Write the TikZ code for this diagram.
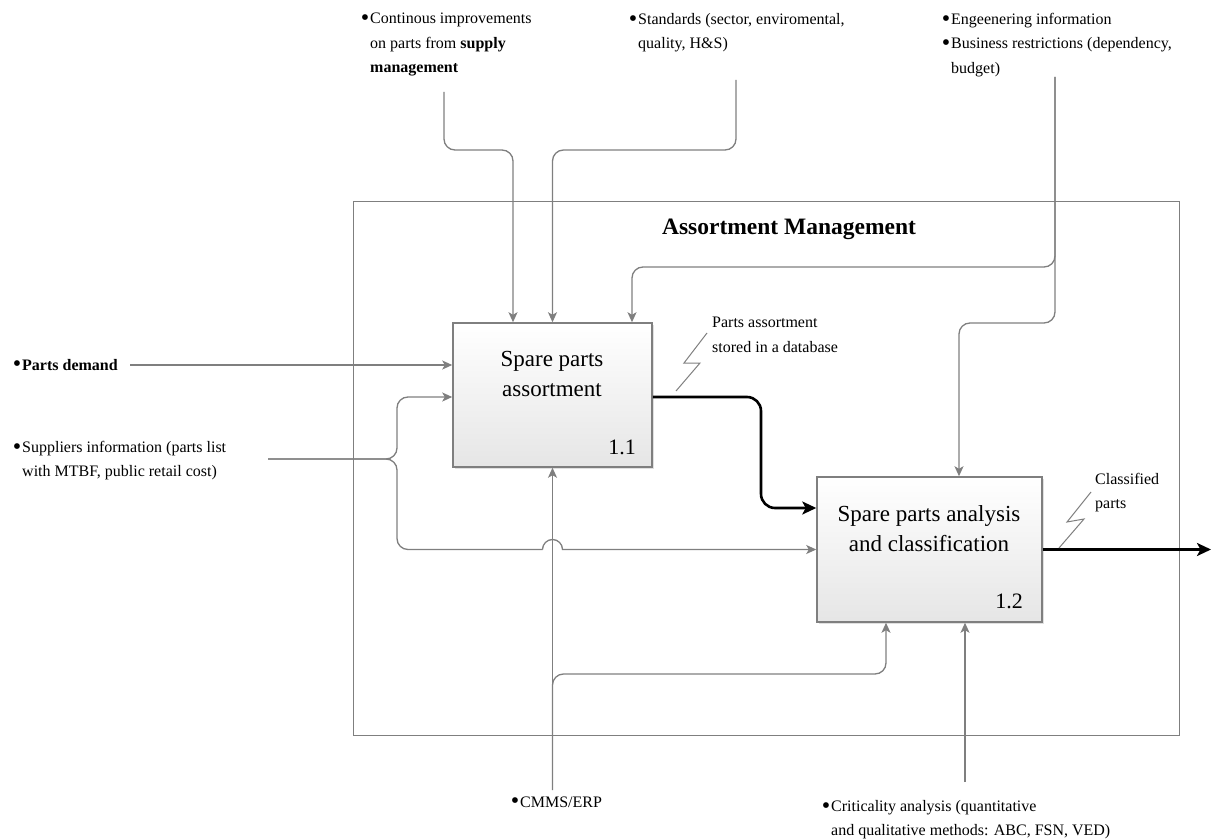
\documentclass[tikz,border=0pt]{standalone}
\usepackage{fontspec}
\setmainfont{Liberation Serif}
\usetikzlibrary{arrows.meta,shadows}
\definecolor{linegray}{HTML}{7F7F7F}
\newcommand{\bul}{\llap{\raisebox{-1.8pt}{\fontsize{24}{0}\selectfont\textbullet}\hspace{1pt}}}
\begin{document}
\begin{tikzpicture}[x=1pt,y=-1pt,
  wire/.style={draw=linegray, line width=1.3pt, rounded corners=11pt},
  tipg/.style={-{Stealth[length=10pt,width=9pt,inset=2.5pt]}},
  mainwire/.style={draw=black, line width=2.6pt, rounded corners=14pt,
    -{Stealth[length=14pt,width=13pt,inset=3.5pt]}},
  actbox/.style={draw=linegray, line width=1.5pt, top color=white, bottom color=black!10,
    drop shadow={shadow xshift=2pt,shadow yshift=-2pt,fill=black!12,opacity=1}, inner sep=0pt},
  frame/.style={draw=linegray, line width=1pt, inner sep=0pt},
  lbl/.style={font=\fontsize{16}{24.5}\selectfont, inner sep=0pt, align=left, anchor=north west},
  boxtxt/.style={font=\fontsize{23}{30}\selectfont, inner sep=0pt, align=center},
  boxnum/.style={font=\fontsize{22}{26}\selectfont, inner sep=0pt, anchor=east},
  squig/.style={draw=linegray, line width=1pt},
]
\useasboundingbox (0,0) rectangle (1211,840);

% enclosing frame and title
\node[frame, minimum width=826pt, minimum height=533pt] (frm) at (766,468.5) {};
\node[font=\fontsize{23.5}{28}\selectfont\bfseries, inner sep=0pt] (title) at (789,229) {Assortment Management};

% activity boxes
\node[actbox, minimum width=199pt, minimum height=144pt] (b1) at (552.5,395) {};
\node[actbox, minimum width=225pt, minimum height=145pt] (b2) at (929.5,549.5) {};
\node[boxtxt] (t1) at (552,373.5) {Spare parts\\assortment};
\node[boxtxt] (t2) at (929,529) {Spare parts analysis\\and classification};
\node[boxnum] (n1) at (636,447) {1.1};
\node[boxnum] (n2) at (1023,601) {1.2};

% outside labels
\node[lbl] (ci) at (370,13) {\bul Continous improvements\\on parts from \textbf{supply}\\\textbf{management}};
\node[lbl] (std) at (638,13) {\bul Standards (sector, enviromental,\\quality, H\&S)};
\node[lbl] (eng) at (951,13) {\bul Engeenering information\\\bul Business restrictions (dependency,\\budget)};
\node[lbl, anchor=base west] (pd) at (22,370) {\bul\textbf{Parts demand}};
\node[lbl] (sup) at (22,441) {\bul Suppliers information (parts list\\ with MTBF, public retail cost)};
\node[lbl, anchor=base west] (cm) at (520,807) {\bul CMMS/ERP};
\node[lbl] (cr) at (831,800) {\bul Criticality analysis (quantitative\\and qualitative methods: ABC, FSN, VED)};
\node[lbl] (pa) at (712,317) {Parts assortment\\stored in a database};
\node[lbl] (cp) at (1095,473) {Classified\\parts};

% free ends of the connectors
\coordinate (ciA) at (444,92);
\coordinate (stdA) at (736,80);
\coordinate (engA) at (1055,77);
\coordinate (pdA) at (130,365);
\coordinate (supA) at (268,459);
\coordinate (cmA) at (552.5,790);
\coordinate (crA) at (965,782);
\coordinate (outA) at (1211,549.5);

% controls
\draw[wire,tipg] (ciA) -- (444,150) -- (513,150) -- ([xshift=-39.5pt]b1.north);
\draw[wire,tipg] (stdA) -- (736,150) -- (552.5,150) -- (b1.north);
\draw[wire,tipg] (engA) -- (1055,267) -- (632,267) -- ([xshift=79.5pt]b1.north);
\draw[wire,tipg] (engA) -- (1055,323) -- (959,323) -- ([xshift=29.5pt]b2.north);

% inputs
\draw[wire,tipg] (pdA) -- ([yshift=30pt]b1.west);
\draw[wire,tipg] (supA) -- (397,459) -- (397,397) -- ([yshift=-2pt]b1.west);
\draw[wire] (supA) -- (397,459) -- (397,549.5) -- (542.5,549.5);
\draw[wire,sharp corners,tipg] (542.5,549.5) arc[start angle=180,end angle=0,radius=10pt] -- (b2.west);

% mechanisms
\draw[wire,tipg] (cmA) -- (b1.south);
\draw[wire,tipg] (cmA) -- (552.5,674) -- (886,674) -- ([xshift=-43.5pt]b2.south);
\draw[wire,tipg] (crA) -- ([xshift=35.5pt]b2.south);

% outputs
\draw[mainwire] ([yshift=-2pt]b1.east) -- (761,397) -- (761,508) -- ([yshift=41.5pt]b2.west);
\draw[mainwire] (b2.east) -- (outA);

% label leaders
\draw[squig] (676,391) -- (700,363) -- (684,363) -- (707,333);
\draw[squig] (1059,548) -- (1084,519) -- (1067,522) -- (1091,492);
\end{tikzpicture}
\end{document}
